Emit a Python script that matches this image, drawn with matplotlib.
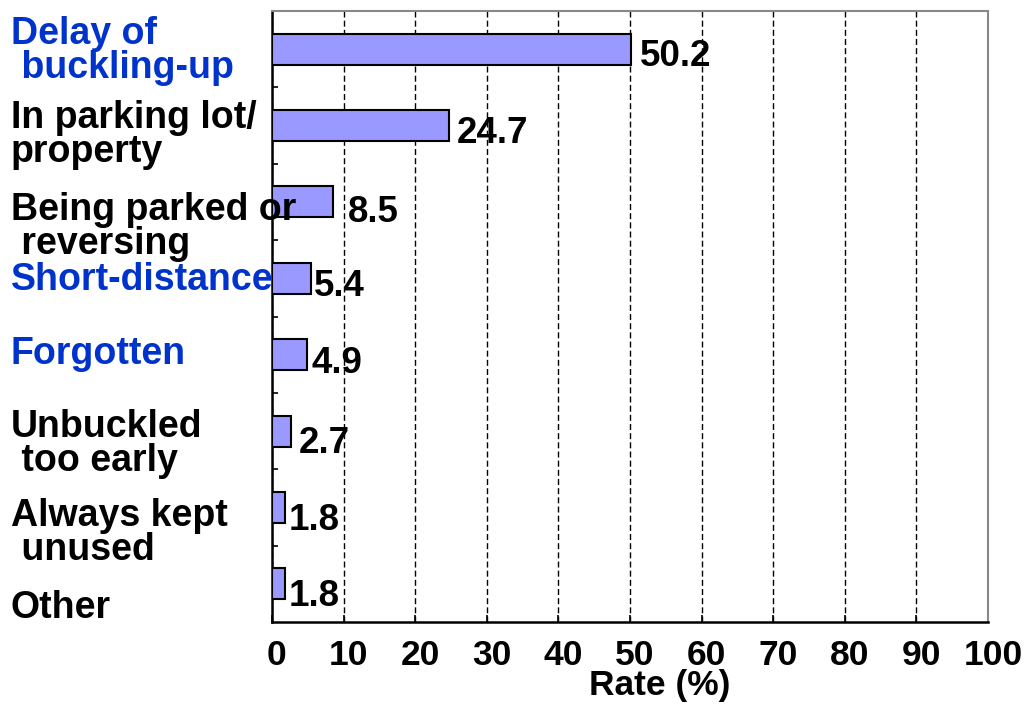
#!/usr/bin/env python3

import matplotlib
matplotlib.use('AGG')
from matplotlib import pyplot as plt
from matplotlib.ticker import FixedLocator
from matplotlib.transforms import ScaledTranslation

categories = ['Delay of\n buckling-up', 'In parking lot/\nproperty', 'Being parked or\n reversing',
              'Short-distance', 'Forgotten', 'Unbuckled\n too early', 'Always kept\n unused', 'Other']
rates = [50.2, 24.7, 8.5, 5.4, 4.9, 2.7, 1.8, 1.8]
highlight = [True, False, False, True, True, False, False, False]

# layout nudges: category labels (data units, + is down), value labels (pixels)
label_dy = [0.02, 0.12, 0.325, 0.025, -0.005, 0.17, 0.33, 0.32]
value_dx = [8, 8, 15, 3, 4, 7, 4, 4]
value_dy = [4, 4.5, 7, 5, 5, 9, 9.5, 9.5]

plt.rcParams['font.family'] = ['Liberation Sans', 'DejaVu Sans']
plt.rcParams['font.weight'] = 'bold'

fig = plt.figure(figsize=(10.32, 7.05), dpi=100)
ax = fig.add_axes([272 / 1032, 1 - 622 / 705, 716 / 1032, 611 / 705])

ypos = list(range(len(categories)))
ax.barh(ypos, rates, height=0.405, color='#9999FF', edgecolor='black', linewidth=1.5, zorder=3)

ax.set_xlim(0, 100)
ax.set_ylim(len(categories) - 0.5, -0.5)

for y, v, dx, dy in zip(ypos, rates, value_dx, value_dy):
    ax.annotate(f'{v}', (v, y), xytext=(dx, -(dy + 3.6)), textcoords='offset pixels',
                ha='left', va='center', fontsize=26.5, fontweight='bold', zorder=4)

for y, lab, hl, dy in zip(ypos, categories, highlight, label_dy):
    ax.text(-0.365, y + dy, lab, transform=ax.get_yaxis_transform(), ha='left', va='center',
            fontsize=27, fontweight='bold', color='#0033CC' if hl else 'black',
            linespacing=0.93, zorder=5, clip_on=False)

ax.set_xticks(range(0, 101, 10))
ax.set_xticklabels([str(t) for t in range(0, 101, 10)], fontsize=25.5, fontweight='bold')
ax.tick_params(axis='x', direction='in', length=5, width=1.2, pad=12)
shift = ScaledTranslation(5 / 100, 0, fig.dpi_scale_trans)
for lab in ax.get_xticklabels():
    lab.set_transform(lab.get_transform() + shift)

ax.set_yticks([])
ax.yaxis.set_minor_locator(FixedLocator([i - 0.5 for i in range(len(categories))]))
ax.tick_params(axis='y', which='minor', direction='in', length=4.5, width=1.2)

ax.grid(axis='x', color='black', linestyle=(0, (4.3, 2.3)), linewidth=1.0, zorder=1)

for side in ['left', 'bottom']:
    ax.spines[side].set_linewidth(1.8)
    ax.spines[side].set_color('black')
for side in ['top', 'right']:
    ax.spines[side].set_linewidth(1.5)
    ax.spines[side].set_color('#888888')

ax.set_xlabel('Rate (%)', fontsize=25.5, fontweight='bold')
ax.xaxis.set_label_coords(0.542, -0.077)

fig.savefig('out.png', dpi=100)
